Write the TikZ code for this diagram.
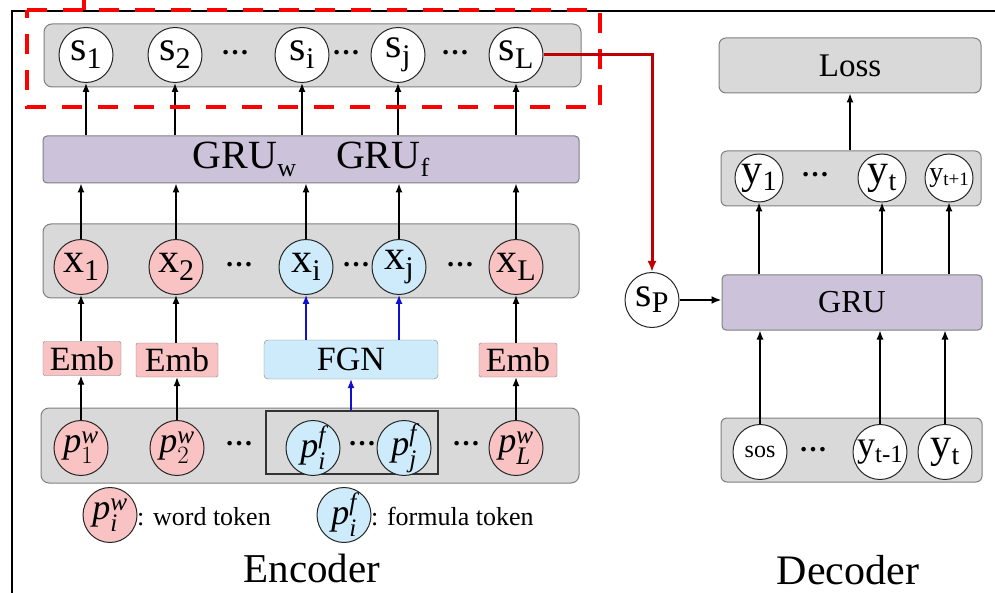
\documentclass[tikz,border=0pt]{standalone}
\usepackage{fontspec}
\setmainfont{Liberation Serif}
\usepackage{amsmath}
\usetikzlibrary{arrows.meta,shapes.geometric}
\definecolor{boxgray}{HTML}{D9D9D9}
\definecolor{boxedge}{HTML}{7F7F7F}
\definecolor{lav}{HTML}{CCC2DA}
\definecolor{pinkc}{HTML}{F9C3C3}
\definecolor{bluec}{HTML}{CDEBFB}
\definecolor{darkred}{HTML}{C00000}
\definecolor{arrblue}{HTML}{1010D0}
\newcommand{\tlab}[5]{{\fontsize{#1}{#1}\selectfont #3\raisebox{-#5pt}{\fontsize{#2}{#2}\selectfont #4}}}
\newcommand{\plab}[2]{{\fontsize{36}{36}\selectfont$\textit{p}^{\textit{#2}}_{#1}$}}
\begin{document}
\begin{tikzpicture}[x=1pt,y=-1pt,
  gbox/.style={draw=boxedge, fill=boxgray, rounded corners=8pt, line width=1pt, inner sep=0pt},
  lbox/.style={draw=boxedge, fill=lav, rounded corners=4pt, line width=1pt, inner sep=0pt},
  tok/.style={ellipse, draw=black!85, line width=1pt, minimum width=54pt, minimum height=55pt, inner sep=0pt},
  wtok/.style={tok, fill=white},
  ptok/.style={tok, fill=pinkc},
  btok/.style={tok, fill=bluec},
  dtok/.style={wtok, minimum width=48pt, minimum height=48pt},
  embbox/.style={draw=boxedge, fill=pinkc, rounded corners=2pt, minimum height=34pt, inner sep=0pt, font=\fontsize{34}{34}\selectfont},
  arr/.style={-{Latex[length=9pt,width=7pt]}, line width=1.3pt},
  barr/.style={-{Latex[length=9pt,width=7pt]}, line width=1.2pt, arrblue},
  dots/.style={font=\bfseries\fontsize{28}{28}\selectfont, inner sep=0pt},
  ttl/.style={font=\fontsize{41}{41}\selectfont, inner sep=0pt},
  lgd/.style={font=\fontsize{26}{26}\selectfont, inner sep=0pt, anchor=west},
]
\useasboundingbox (0,0) rectangle (995,593);
% frame
\draw[line width=2.5pt] (12,593) -- (12,11) -- (995,11);

% ---------------- Encoder ----------------
% s row
\node[gbox, minimum width=537pt, minimum height=63pt] (srow) at (312.5,55.5) {};
\node[wtok, label={center:\tlab{42}{30}{s}{1}{8}}] (s1) at (86,55) {};
\node[wtok, label={center:\tlab{42}{30}{s}{2}{8}}] (s2) at (175,55) {};
\node[wtok, label={center:\tlab{42}{30}{s}{i}{8}}] (si) at (302,55) {};
\node[wtok, label={center:\tlab{42}{30}{s}{j}{8}}] (sj) at (398,55) {};
\node[wtok, label={center:\tlab{42}{30}{s}{L}{8}}] (sL) at (516,55) {};
\node[dots] (sd1) at (235,53) {…};
\node[dots] (sd2) at (346,53) {…};
\node[dots] (sd3) at (455,53) {…};

% GRU bar
\node[lbox, minimum width=536pt, minimum height=47pt] (gru) at (311,159.5)
  {\tlab{40}{26}{GRU}{w}{8}\hspace{40pt}\tlab{40}{26}{GRU}{f}{8}};

% x row
\node[gbox, minimum width=536pt, minimum height=74pt] (xrow) at (311,261) {};
\node[ptok, label={center:\tlab{42}{30}{x}{1}{8}}] (x1) at (81,267) {};
\node[ptok, label={center:\tlab{42}{30}{x}{2}{8}}] (x2) at (176,267) {};
\node[btok, label={center:\tlab{42}{30}{x}{i}{8}}] (xi) at (306,267) {};
\node[btok, label={center:\tlab{42}{30}{x}{j}{8}}] (xj) at (399,267) {};
\node[ptok, label={center:\tlab{42}{30}{x}{L}{8}}] (xL) at (516,267) {};
\node[dots] (xd1) at (239,265) {…};
\node[dots] (xd2) at (356,265) {…};
\node[dots] (xd3) at (460,265) {…};

% Emb / FGN
\node[embbox, minimum width=78pt] (emb1) at (82,358.5) {Emb};
\node[embbox, minimum width=82pt] (emb2) at (177,360) {Emb};
\node[embbox, fill=bluec, rounded corners=4pt, minimum width=174pt, minimum height=39pt] (fgn) at (351,359.5) {FGN};
\node[embbox, minimum width=78pt] (emb3) at (518,360) {Emb};

% p row
\node[gbox, minimum width=538pt, minimum height=75pt] (prow) at (310,445.5) {};
\node[draw=black!80, line width=1.2pt, minimum width=172pt, minimum height=63pt, inner sep=0pt] (fbox) at (352,442.5) {};
\node[ptok, label={center:\plab{1}{w}}] (p1) at (81,448) {};
\node[ptok, label={center:\plab{2}{w}}] (p2) at (177,448) {};
\node[btok, label={center:\plab{\textit{i}}{f}}] (pi) at (313,448) {};
\node[btok, label={center:\plab{\textit{j}}{f}}] (pj) at (404,448) {};
\node[ptok, label={center:\plab{\textit{L}}{w}}] (pL) at (516,448) {};
\node[dots] (pd1) at (239,444) {…};
\node[dots] (pd2) at (362,444) {…};
\node[dots] (pd3) at (466,444) {…};

% legend
\node[ptok, label={center:\plab{\textit{i}}{w}}] (lw) at (110,515) {};
\node[lgd] (lwt) at (137,517) {: word token};
\node[btok, label={center:\plab{\textit{i}}{f}}] (lf) at (344,515) {};
\node[lgd] (lft) at (371,517) {: formula token};
\node[ttl] (enc) at (312,568) {Encoder};

% encoder arrows
\foreach \n in {s1,s2,si,sj,sL} \draw[arr] (gru.north -| \n) -- (\n.south);
\foreach \n in {x1,x2,xi,xj,xL} \draw[arr] (\n.north) -- (gru.south -| \n);
\draw[arr] (emb1.north -| x1) -- (x1.south);
\draw[arr] (emb2.north -| x2) -- (x2.south);
\draw[arr] (emb3.north -| xL) -- (xL.south);
\draw[barr] (fgn.north -| xi) -- (xi.south);
\draw[barr] (fgn.north -| xj) -- (xj.south);
\draw[arr] (p1.north) -- (emb1.south -| p1);
\draw[arr] (p2.north) -- (emb2.south -| p2);
\draw[arr] (pL.north) -- (emb3.south -| pL);
\draw[barr] (fbox.north -| fgn) -- (fgn.south);

% red dashed box
\draw[red, line width=4.5pt, dash pattern=on 20pt off 16pt] (27,10) -- (600,10) -- (600,107) -- (27,107) -- cycle;
\draw[red, line width=4.5pt] (84,0) -- (84,10);

% ---------------- Decoder ----------------
\node[gbox, rounded corners=7pt, minimum width=262pt, minimum height=55pt, font=\fontsize{33}{33}\selectfont] (loss) at (850,65.5) {Loss};
\node[gbox, rounded corners=6pt, minimum width=260pt, minimum height=55pt] (yrow) at (851,178.5) {};
\node[dtok, label={center:\tlab{42}{28}{y}{1}{7}}] (y1) at (759,178) {};
\node[dtok, label={center:\tlab{42}{28}{y}{t}{7}}] (yt) at (882,178) {};
\node[dtok, label={center:\tlab{28}{19}{y}{t+1}{4}}] (yt1) at (949,178) {};
\node[dots] (yd) at (815,175) {…};

\node[lbox, minimum width=260pt, minimum height=55pt, font=\fontsize{32}{32}\selectfont] (grud) at (852,302.5) {GRU};
\node[wtok, label={center:\tlab{42}{30}{s}{P}{6}}] (sP) at (652,300) {};

\node[gbox, rounded corners=6pt, minimum width=261pt, minimum height=64pt] (brow) at (851.5,450) {};
\node[wtok, label={center:{\fontsize{24}{24}\selectfont sos}}] (sos) at (760,452) {};
\node[wtok, label={center:\tlab{36}{25}{y}{t-1}{6}}] (ytm) at (880,452) {};
\node[wtok, label={center:\tlab{42}{28}{y}{t}{7}}] (ytb) at (945,452) {};
\node[dots] (bd) at (813,450) {…};
\node[ttl, font=\fontsize{42}{42}\selectfont] (dec) at (848,570) {Decoder};

% decoder arrows
\draw[arr] (yrow.north -| loss) -- (loss.south);
\foreach \n in {y1,yt,yt1} \draw[arr] (grud.north -| \n) -- (\n.south);
\foreach \n in {sos,ytm,ytb} \draw[arr] (\n.north) -- (grud.south -| \n);
\draw[-{Latex[length=10pt,width=8pt]}, line width=2.8pt] (sP.east) -- (grud.west |- sP);
\draw[darkred, line width=3pt, -{Latex[length=11pt,width=9pt]}] (sL.east) -| (sP.north);
\end{tikzpicture}
\end{document}
